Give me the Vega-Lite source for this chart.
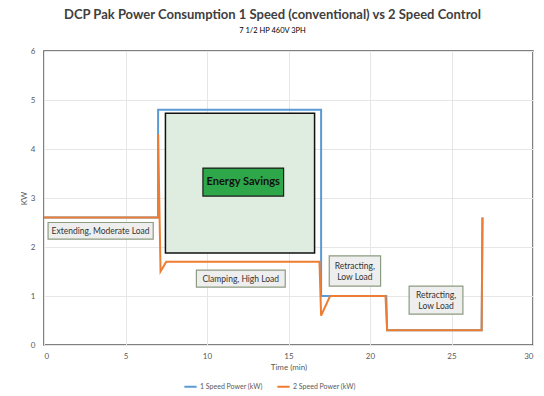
{
  "$schema": "https://vega.github.io/schema/vega-lite/v6.json",
  "width": 489,
  "height": 294,
  "autosize": {"type": "none"},
  "padding": {"left": 44, "top": 51, "right": 11, "bottom": 51},
  "background": "white",
  "config": {
    "font": "Lato",
    "view": {"stroke": "#555555", "strokeWidth": 1.5},
    "axis": {"labelColor": "#595959", "titleColor": "#595959", "labelFontSize": 8, "titleFontSize": 8, "titleFontWeight": "normal", "gridColor": "#e6e6e6", "domain": false, "ticks": false}
  },
  "title": {
    "text": "DCP Pak Power Consumption 1 Speed (conventional) vs 2 Speed Control",
    "subtitle": "7 1/2 HP 460V 3PH",
    "fontSize": 13,
    "fontWeight": "bold",
    "color": "#404040",
    "subtitleFontSize": 7.5,
    "subtitleColor": "#000000",
    "subtitlePadding": 5,
    "anchor": "middle",
    "dx": -16,
    "offset": 13
  },
  "datasets": {
    "lines": [
      {"t": 0, "kw": 2.6, "series": "1 Speed Power (kW)", "i": 0},
      {"t": 7, "kw": 2.6, "series": "1 Speed Power (kW)", "i": 1},
      {"t": 7, "kw": 4.8, "series": "1 Speed Power (kW)", "i": 2},
      {"t": 17, "kw": 4.8, "series": "1 Speed Power (kW)", "i": 3},
      {"t": 17, "kw": 1.0, "series": "1 Speed Power (kW)", "i": 4},
      {"t": 21, "kw": 1.0, "series": "1 Speed Power (kW)", "i": 5},
      {"t": 21.05, "kw": 0.3, "series": "1 Speed Power (kW)", "i": 6},
      {"t": 26.85, "kw": 0.3, "series": "1 Speed Power (kW)", "i": 7},
      {"t": 26.9, "kw": 2.6, "series": "1 Speed Power (kW)", "i": 8},
      {"t": 0, "kw": 2.6, "series": "2 Speed Power (kW)", "i": 0},
      {"t": 7, "kw": 2.6, "series": "2 Speed Power (kW)", "i": 1},
      {"t": 7, "kw": 4.3, "series": "2 Speed Power (kW)", "i": 2},
      {"t": 7.15, "kw": 1.5, "series": "2 Speed Power (kW)", "i": 3},
      {"t": 7.5, "kw": 1.7, "series": "2 Speed Power (kW)", "i": 4},
      {"t": 16.9, "kw": 1.7, "series": "2 Speed Power (kW)", "i": 5},
      {"t": 17.0, "kw": 0.6, "series": "2 Speed Power (kW)", "i": 6},
      {"t": 17.55, "kw": 1.0, "series": "2 Speed Power (kW)", "i": 7},
      {"t": 20.95, "kw": 1.0, "series": "2 Speed Power (kW)", "i": 8},
      {"t": 21.05, "kw": 0.3, "series": "2 Speed Power (kW)", "i": 9},
      {"t": 26.85, "kw": 0.3, "series": "2 Speed Power (kW)", "i": 10},
      {"t": 26.9, "kw": 2.6, "series": "2 Speed Power (kW)", "i": 11}
    ],
    "boxes": [
      {"x1": 0.25, "x2": 6.7, "y1": 2.5, "y2": 2.16, "xc": 3.47, "yc": 2.33, "label": ["Extending, Moderate Load"]},
      {"x1": 9.35, "x2": 14.8, "y1": 1.53, "y2": 1.18, "xc": 12.07, "yc": 1.355, "label": ["Clamping, High Load"]},
      {"x1": 17.5, "x2": 20.65, "y1": 1.82, "y2": 1.2, "xc": 19.07, "yc": 1.62, "label": ["Retracting,", "Low Load"]},
      {"x1": 22.4, "x2": 25.7, "y1": 1.2, "y2": 0.63, "xc": 24.05, "yc": 1.025, "label": ["Retracting,", "Low Load"]}
    ],
    "savings": [
      {"x1": 7.45, "x2": 16.6, "y1": 4.73, "y2": 1.88}
    ],
    "savingsLabel": [
      {"x1": 9.75, "x2": 14.7, "y1": 3.61, "y2": 3.04, "xc": 12.22, "yc": 3.325, "label": "Energy Savings"}
    ]
  },
  "layer": [
    {
      "data": {"name": "savings"},
      "mark": {"type": "rect", "fill": "#dfece0", "stroke": "#111111", "strokeWidth": 1.5},
      "encoding": {
        "x": {"field": "x1", "type": "quantitative", "scale": {"domain": [0, 30]}, "axis": {"title": "Time (min)", "values": [0, 5, 10, 15, 20, 25, 30], "labelPadding": 7, "titlePadding": 3}},
        "x2": {"field": "x2"},
        "y": {"field": "y1", "type": "quantitative", "scale": {"domain": [0, 6]}, "axis": {"title": "KW", "values": [0, 1, 2, 3, 4, 5, 6], "labelPadding": 9, "titlePadding": 2}},
        "y2": {"field": "y2"}
      }
    },
    {
      "data": {"name": "lines"},
      "mark": {"type": "line", "strokeWidth": 2},
      "encoding": {
        "x": {"field": "t", "type": "quantitative"},
        "y": {"field": "kw", "type": "quantitative"},
        "order": {"field": "i", "type": "quantitative"},
        "color": {
          "field": "series",
          "type": "nominal",
          "scale": {"domain": ["1 Speed Power (kW)", "2 Speed Power (kW)"], "range": ["#5b9bd5", "#ed7d31"]},
          "legend": {"title": null, "orient": "none", "legendX": 139, "legendY": 328, "direction": "horizontal", "symbolType": "stroke", "symbolStrokeWidth": 2, "symbolSize": 150, "labelFontSize": 7, "labelColor": "#595959", "labelOffset": 2, "columnPadding": 10}
        }
      }
    },
    {
      "data": {"name": "boxes"},
      "mark": {"type": "rect", "fill": "#eeeeee", "stroke": "#8c9c80", "strokeWidth": 1.2},
      "encoding": {
        "x": {"field": "x1", "type": "quantitative"},
        "x2": {"field": "x2"},
        "y": {"field": "y1", "type": "quantitative"},
        "y2": {"field": "y2"}
      }
    },
    {
      "data": {"name": "boxes"},
      "mark": {"type": "text", "fontSize": 8.5, "color": "#333333", "baseline": "middle", "lineHeight": 11},
      "encoding": {
        "x": {"field": "xc", "type": "quantitative"},
        "y": {"field": "yc", "type": "quantitative"},
        "text": {"field": "label"}
      }
    },
    {
      "data": {"name": "savingsLabel"},
      "mark": {"type": "rect", "fill": "#2ea64a", "stroke": "#1a1a1a", "strokeWidth": 1.2},
      "encoding": {
        "x": {"field": "x1", "type": "quantitative"},
        "x2": {"field": "x2"},
        "y": {"field": "y1", "type": "quantitative"},
        "y2": {"field": "y2"}
      }
    },
    {
      "data": {"name": "savingsLabel"},
      "mark": {"type": "text", "fontSize": 11, "fontWeight": "bold", "color": "#111111", "baseline": "middle"},
      "encoding": {
        "x": {"field": "xc", "type": "quantitative"},
        "y": {"field": "yc", "type": "quantitative"},
        "text": {"field": "label"}
      }
    }
  ]
}
